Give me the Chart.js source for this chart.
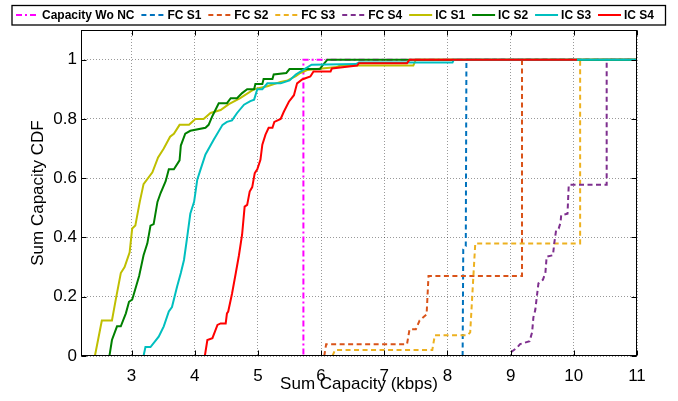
<!DOCTYPE html>
<html>
<head>
<meta charset="utf-8">
<script src="https://cdn.jsdelivr.net/npm/chart.js@4.4.1/dist/chart.umd.min.js"></script>
<style>
html, body { margin: 0; background: #fff; }
</style>
</head>
<body>
<canvas id="cdfChart" width="678" height="401"></canvas>
<script>
// axis ticks
const xTicks = [3, 4, 5, 6, 7, 8, 9, 10, 11];
const yTicks = [0, 0.2, 0.4, 0.6, 0.8, 1];
const yTickLabels = ['0', '0.2', '0.4', '0.6', '0.8', '1'];

const seriesNames = ['Capacity Wo NC', 'FC S1', 'FC S2', 'FC S3', 'FC S4', 'IC S1', 'IC S2', 'IC S3', 'IC S4'];

// CDF curves (x = sum capacity, y = CDF)
const woNcX = [2.2, 5.72, 5.72, 11];
const woNcY = [0, 0, 1, 1];

const fcS1X = [8.24, 8.25, 8.29, 8.30, 11];
const fcS1Y = [0, 0.36, 0.37, 1, 1];

const fcS2X = [6.05, 6.08, 7.36, 7.40, 7.50, 7.56, 7.67, 7.70, 9.18, 9.18, 11];
const fcS2Y = [0, 0.04, 0.04, 0.09, 0.09, 0.12, 0.14, 0.27, 0.27, 1, 1];

const fcS3X = [6.18, 6.22, 7.76, 7.80, 8.32, 8.36, 8.44, 10.1, 10.1, 11];
const fcS3Y = [0, 0.02, 0.02, 0.07, 0.07, 0.08, 0.38, 0.38, 1, 1];

const fcS4X = [2.2, 9.0, 9.02, 9.10, 9.15, 9.30, 9.34, 9.36, 9.39, 9.42, 9.44, 9.51, 9.55, 9.57, 9.67, 9.69, 9.72, 9.76, 9.79, 9.80, 9.90, 9.91, 9.92, 10.52, 10.52, 11];
const fcS4Y = [0, 0, 0.015, 0.028, 0.04, 0.05, 0.08, 0.13, 0.155, 0.21, 0.245, 0.257, 0.28, 0.335, 0.34, 0.38, 0.425, 0.43, 0.45, 0.475, 0.48, 0.53, 0.578, 0.578, 1, 1];

const icS1X = [2.2, 2.42, 2.53, 2.69, 2.75, 2.83, 2.89, 2.97, 3.01, 3.06, 3.13, 3.19, 3.33, 3.42, 3.51, 3.61, 3.67, 3.76, 3.91, 4.01, 4.14, 4.25, 4.41, 4.54, 4.72, 4.94, 5.15, 5.36, 5.47, 5.6, 5.67, 5.78, 6.25, 6.3, 7.46, 7.5, 11];
const icS1Y = [0, 0, 0.12, 0.12, 0.19, 0.28, 0.30, 0.35, 0.43, 0.44, 0.52, 0.58, 0.62, 0.67, 0.70, 0.74, 0.75, 0.78, 0.78, 0.80, 0.80, 0.82, 0.83, 0.85, 0.87, 0.90, 0.91, 0.925, 0.93, 0.944, 0.955, 0.965, 0.975, 0.98, 0.98, 1, 1];

const icS2X = [2.2, 2.65, 2.69, 2.77, 2.83, 2.91, 2.96, 3.01, 3.12, 3.19, 3.25, 3.30, 3.35, 3.41, 3.46, 3.54, 3.59, 3.67, 3.76, 3.78, 3.85, 3.93, 4.17, 4.22, 4.28, 4.38, 4.51, 4.57, 4.67, 4.75, 4.83, 4.94, 4.96, 5.07, 5.09, 5.23, 5.25, 5.45, 5.5, 5.98, 6.02, 6.1, 11];
const icS2Y = [0, 0, 0.054, 0.10, 0.10, 0.144, 0.183, 0.19, 0.27, 0.34, 0.38, 0.44, 0.445, 0.52, 0.55, 0.59, 0.63, 0.63, 0.66, 0.71, 0.75, 0.76, 0.77, 0.78, 0.81, 0.853, 0.853, 0.87, 0.87, 0.887, 0.90, 0.90, 0.918, 0.918, 0.935, 0.935, 0.95, 0.955, 0.968, 0.968, 0.98, 1, 1];

const icS3X = [2.2, 3.19, 3.22, 3.30, 3.43, 3.51, 3.59, 3.64, 3.72, 3.78, 3.83, 3.88, 3.93, 3.99, 4.04, 4.09, 4.17, 4.30, 4.44, 4.51, 4.59, 4.67, 4.78, 4.88, 4.94, 4.99, 5.07, 5.15, 5.36, 5.5, 5.6, 5.75, 5.85, 6.55, 6.6, 8.08, 8.1, 11];
const icS3Y = [0, 0, 0.03, 0.03, 0.065, 0.10, 0.15, 0.165, 0.234, 0.28, 0.324, 0.40, 0.48, 0.52, 0.595, 0.628, 0.68, 0.73, 0.78, 0.79, 0.795, 0.82, 0.848, 0.86, 0.865, 0.90, 0.90, 0.92, 0.92, 0.93, 0.95, 0.97, 0.983, 0.985, 0.99, 0.99, 1, 1];

const icS4X = [3.8, 4.16, 4.20, 4.28, 4.36, 4.41, 4.49, 4.51, 4.53, 4.59, 4.65, 4.70, 4.75, 4.79, 4.83, 4.87, 4.91, 4.95, 4.99, 5.04, 5.07, 5.12, 5.17, 5.23, 5.26, 5.36, 5.41, 5.49, 5.57, 5.62, 5.70, 5.83, 5.88, 6.15, 6.17, 6.57, 6.6, 7.36, 7.4, 10.05];
const icS4Y = [0, 0, 0.054, 0.06, 0.105, 0.11, 0.11, 0.144, 0.15, 0.21, 0.28, 0.34, 0.41, 0.504, 0.51, 0.555, 0.57, 0.617, 0.63, 0.662, 0.713, 0.747, 0.77, 0.77, 0.79, 0.80, 0.824, 0.858, 0.88, 0.92, 0.933, 0.943, 0.96, 0.96, 0.97, 0.98, 0.988, 0.988, 1, 1];

const zip = (xs, ys) => xs.map((x, i) => ({ x: x, y: ys[i] }));

const curves = [
    zip(woNcX, woNcY), zip(fcS1X, fcS1Y), zip(fcS2X, fcS2Y), zip(fcS3X, fcS3Y), zip(fcS4X, fcS4Y),
    zip(icS1X, icS1Y), zip(icS2X, icS2Y), zip(icS3X, icS3Y), zip(icS4X, icS4Y)
];
const colors = ['#ff00ff', '#0072bd', '#d95319', '#edb120', '#7e2f8e', '#bfbf00', '#008000', '#00bfbf', '#ff0000'];
const dashes = [[6, 3, 2, 3], [5, 3.5], [5, 3.5], [5, 3.5], [5, 3.5], [], [], [], []];

const FONT = '"Liberation Sans", Arial, Helvetica, sans-serif';

// legend in a framed box, like the matlab one
const legendBox = {
    id: 'legendBox',
    afterDraw(chart) {
        const ctx = chart.ctx;
        const sets = chart.data.datasets;
        const sample = 23, textGap = 3, x0 = 16, x1 = 654, cy = 15;
        ctx.save();
        ctx.font = 'bold 12px ' + FONT;
        const widths = sets.map(d => ctx.measureText(d.label).width);
        const used = widths.reduce((a, b) => a + b, 0) + sets.length * (sample + textGap);
        const gap = (x1 - x0 - used) / (sets.length - 1);

        ctx.strokeStyle = '#000';
        ctx.lineWidth = 1.3;
        ctx.strokeRect(12, 5.5, 653.5, 19.5);

        let x = x0;
        sets.forEach((d, i) => {
            ctx.beginPath();
            ctx.setLineDash(d.borderDash);
            ctx.strokeStyle = d.borderColor;
            ctx.lineWidth = 2;
            ctx.moveTo(x, cy);
            ctx.lineTo(x + sample, cy);
            ctx.stroke();
            ctx.setLineDash([]);
            ctx.fillStyle = '#000';
            ctx.textBaseline = 'middle';
            ctx.fillText(d.label, x + sample + textGap, cy + 0.5);
            x += sample + textGap + widths[i] + gap;
        });
        ctx.restore();
    }
};

// box round the axes with inward tick marks
const axesBox = {
    id: 'axesBox',
    afterDraw(chart) {
        const { ctx, chartArea: a, scales } = chart;
        const L = Math.round(a.left) + 0.5, R = Math.round(a.right) - 0.5;
        const T = Math.round(a.top) + 0.5, B = Math.round(a.bottom) - 0.5;
        ctx.save();
        ctx.strokeStyle = '#000';
        ctx.lineWidth = 1;
        ctx.beginPath();
        xTicks.forEach(v => {
            const px = Math.round(scales.x.getPixelForValue(v)) + 0.5;
            ctx.moveTo(px, B); ctx.lineTo(px, B - 5);
            ctx.moveTo(px, T); ctx.lineTo(px, T + 5);
        });
        yTicks.forEach(v => {
            const py = Math.round(scales.y.getPixelForValue(v)) + 0.5;
            ctx.moveTo(L, py); ctx.lineTo(L + 5, py);
            ctx.moveTo(R, py); ctx.lineTo(R - 5, py);
        });
        ctx.stroke();
        ctx.strokeRect(L, T, R - L, B - T);
        ctx.restore();
    }
};

new Chart(document.getElementById('cdfChart').getContext('2d'), {
    type: 'line',
    data: {
        datasets: curves.map((pts, i) => ({
            label: seriesNames[i],
            data: pts,
            borderColor: colors[i],
            borderDash: dashes[i],
            borderWidth: 2,
            pointRadius: 0,
            fill: false,
            tension: 0,
            order: curves.length - 1 - i
        }))
    },
    options: {
        responsive: false,
        animation: false,
        layout: { padding: { top: 30, right: 41, bottom: 0, left: 0 } },
        plugins: {
            legend: { display: false },
            tooltip: { enabled: false }
        },
        scales: {
            x: {
                type: 'linear',
                min: 2.2,
                max: 11,
                afterBuildTicks: s => { s.ticks = xTicks.map(v => ({ value: v })); },
                afterFit: s => { s.height = 45; },
                ticks: {
                    color: '#000',
                    padding: 10,
                    maxRotation: 0,
                    font: { family: FONT, size: 17 },
                    callback: v => String(v)
                },
                grid: { color: 'rgba(0,0,0,0.4)', drawTicks: false },
                border: { display: false, dash: [1, 2] },
                title: {
                    display: true,
                    text: 'Sum Capacity (kbps)',
                    color: '#000',
                    font: { family: FONT, size: 17 },
                    padding: { top: 0, bottom: 6 }
                }
            },
            y: {
                type: 'linear',
                min: 0,
                max: 1.1,
                afterBuildTicks: s => { s.ticks = yTicks.map(v => ({ value: v })); },
                afterFit: s => { s.width = 81; },
                ticks: {
                    color: '#000',
                    padding: 4,
                    font: { family: FONT, size: 17 },
                    callback: (v, i) => yTickLabels[i]
                },
                grid: { color: 'rgba(0,0,0,0.4)', drawTicks: false },
                border: { display: false, dash: [1, 2] },
                title: {
                    display: true,
                    text: 'Sum Capacity CDF',
                    color: '#000',
                    font: { family: FONT, size: 17 },
                    padding: { top: 28, bottom: 0 }
                }
            }
        }
    },
    plugins: [legendBox, axesBox]
});
</script>
</body>
</html>
